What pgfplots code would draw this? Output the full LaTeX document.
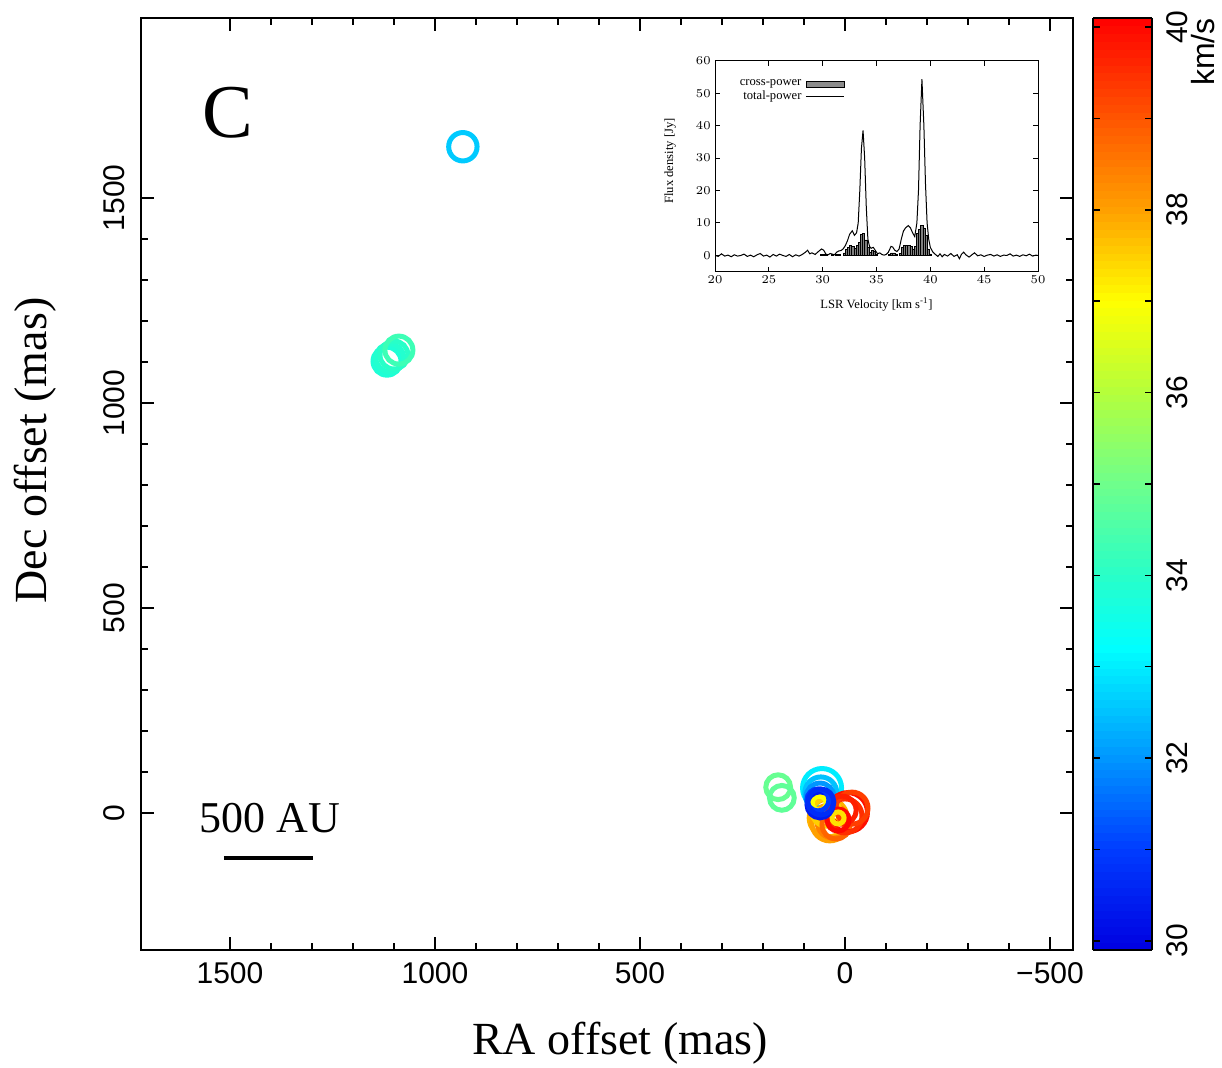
\documentclass[border=0pt]{standalone}
\usepackage{fontspec}
\setmainfont{Liberation Serif}
\newfontfamily\lsans{Liberation Sans}
\newfontfamily\insetfont[FakeStretch=1.3]{Liberation Serif}
\usepackage{pgfplots}
\pgfplotsset{compat=1.18}

\pgfplotstableread{
x y v s
56 61 33.0 9.75
59 49 32.5 8.0
61 39 32.0 7.0
932 1625 32.6 7.1
1117 1102 33.8 7.0
1110 1110 33.9 7.0
1100 1117 34.0 7.0
1088 1129 34.3 7.0
163 63 34.9 6.2
154 37 34.8 6.2
41 -12 37.8 9.5
37 -24 38.0 9.0
29 -22 38.4 8.0
46 2 37.5 7.0
22 -29 38.8 7.0
-7 2 39.9 9.8
0 -7 39.5 8.5
-17 12 39.3 8.0
7 7 39.7 7.0
17 -17 40.0 5.5
63 24 37.0 3.5
17 -12 37.3 3.0
61 20 30.4 6.5
66 32 31.0 5.5
59 27 30.7 6.5
}\spots

\begin{document}
\begin{tikzpicture}
\useasboundingbox (0,0) rectangle (611pt,534pt);
\begin{axis}[
  at={(70.5pt,59pt)}, anchor=south west,
  width=466pt, height=466pt, scale only axis,
  x dir=reverse,
  xmin=-556, xmax=1717, ymin=-334, ymax=1939,
  xtick={-500,0,500,1000,1500},
  xticklabels={−500,0,500,1000,1500},
  ytick={0,500,1000,1500},
  yticklabels={0,500,1000,1500},
  minor x tick num=4, minor y tick num=4,
  tick align=inside, xtick pos=both, ytick pos=both,
  major tick length=6.5pt, minor tick length=3.5pt,
  axis line style={line width=0.75pt},
  every tick/.style={line width=0.75pt, black},
  ticklabel style={font=\lsans\fontsize{15}{18}\selectfont},
  yticklabel style={rotate=90, anchor=south, inner sep=8pt},
  xticklabel style={inner sep=6pt},
  xlabel={RA offset (mas)},
  ylabel={Dec offset (mas)},
  label style={font=\fontsize{23}{26}\selectfont},
  xlabel style={at={(axis description cs:0.514,-0.0998)}, anchor=center},
  ylabel style={at={(axis description cs:-0.1137,0.536)}, anchor=center},
  colormap={myjet}{rgb255(0pt)=(0,0,225); rgb255(1.1pt)=(0,60,255); rgb255(2.1pt)=(0,150,255); rgb255(3.3pt)=(0,255,255); rgb255(4.1pt)=(40,255,200); rgb255(5.1pt)=(110,255,140); rgb255(6.1pt)=(180,255,60); rgb255(7.1pt)=(255,255,0); rgb255(8.1pt)=(255,160,0); rgb255(9.1pt)=(255,85,0); rgb255(10.2pt)=(255,0,0)},
  point meta min=29.9, point meta max=40.1,
  colorbar right,
  colorbar sampled,
  colorbar shift/.style={xshift=10pt},
  colorbar style={
    at={(parent axis.north east)}, anchor=north west,
    width=29.5pt, scale only axis,
    samples=120,
    xmin=0, xmax=1,
    ytick={30,...,40},
    yticklabels={30,,32,,34,,36,,38,,40},
    ytick pos=both, yticklabel pos=right, tick align=inside,
    major tick length=3.5pt,
    axis line style={line width=0.75pt},
    axis on top,
    every tick/.style={line width=0.75pt, black},
    yticklabel style={rotate=90, anchor=north, inner sep=7pt, font=\lsans\fontsize{15}{18}\selectfont},
  },
]
\addplot[scatter, only marks, mark=o, mark options={line width=2.5pt},
  scatter/use mapped color={draw=mapped color, fill=mapped color},
  point meta=\thisrow{v},
  visualization depends on={\thisrow{s} \as \msize},
  scatter/@pre marker code/.append style={/tikz/mark size=\msize}]
  table[x=x, y=y] {\spots};
\node[font=\fontsize{38}{40}\selectfont] at (axis cs:1505,1707) {C};
\node[font=\fontsize{22}{24}\selectfont] at (axis cs:1402,-12) {500 AU};
\draw[line width=1.7pt] (axis cs:1515,-110) -- (axis cs:1298,-110);
\end{axis}
\node[rotate=90, font=\lsans\fontsize{16}{18}\selectfont] at (601.5pt,508pt) {km/s};

\begin{axis}[
  at={(357.5pt,398.15pt)}, anchor=south west,
  width=161.5pt, height=105.5pt, scale only axis,
  xmin=20, xmax=50, ymin=-5, ymax=60,
  xtick={20,25,...,50}, ytick={0,10,...,60},
  tick align=inside, major tick length=2.5pt,
  axis line style={line width=0.5pt},
  every tick/.style={black, line width=0.5pt},
  ticklabel style={font=\insetfont\fontsize{6.3}{7}\selectfont},
  xticklabel style={inner sep=2pt},
  yticklabel style={inner sep=2pt},
  xlabel={LSR Velocity [km s\textsuperscript{-1}]},
  ylabel={Flux density [Jy]},
  label style={font=\fontsize{6.3}{7}\selectfont},
  xlabel style={at={(axis description cs:0.5,-0.157)}, anchor=center},
  ylabel style={at={(axis description cs:-0.139,0.525)}, anchor=center},
  legend style={draw=none, fill=none, at={(0.402,0.93)}, anchor=north east,
    font=\fontsize{6.3}{7}\selectfont, inner sep=0pt, row sep=-3pt},
  legend cell align=right, legend plot pos=right,
]
\addplot[ybar, bar width=0.2, fill=gray, draw=black, line width=0.3pt,
  legend image code/.code={\draw[fill=gray!90, draw=black, line width=0.4pt] (0pt,-1.5pt) rectangle (19pt,1.5pt);}]
  coordinates {
  (29.9,0.3) (30.1,0.4) (30.3,0.2) (30.9,0.3) (31.3,0.4) (31.5,0.3)
  (32.0,0.8) (32.2,1.8) (32.4,2.5) (32.6,3.0) (32.8,2.8) (33.0,2.2)
  (33.2,3.0) (33.4,4.0) (33.6,6.5) (33.8,6.9) (34.0,4.8) (34.2,2.5)
  (34.4,1.0) (34.6,1.5) (34.8,1.2) (35.0,0.3)
  (36.2,0.3) (36.4,0.8) (36.6,0.8) (36.8,0.5) (37.2,0.6) (37.4,2.5)
  (37.6,3.2) (37.8,3.0) (38.0,3.0) (38.2,2.8) (38.4,2.0) (38.6,2.8)
  (38.8,6.8) (39.0,8.0) (39.2,9.3) (39.4,8.5) (39.6,6.2) (39.8,2.0) (40.0,0.5)
  };
\addlegendentry{cross-power}
\addplot[black, line width=0.5pt,
  legend image code/.code={\draw[black, line width=0.5pt] (0pt,0pt) -- (19pt,0pt);}]
  coordinates {
  (20.0,0.0) (20.3,-0.3) (20.6,0.5) (20.9,-0.2) (21.2,0.1) (21.5,-0.4)
  (21.8,0.2) (22.1,-0.2) (22.4,0.0) (22.7,0.4) (23.0,-0.3) (23.3,0.1)
  (23.6,-0.4) (23.9,0.2) (24.2,0.6) (24.5,-0.2) (24.8,0.1) (25.1,-0.5)
  (25.4,0.3) (25.7,-0.2) (26.0,0.4) (26.3,0.0) (26.6,-0.3) (26.9,0.3)
  (27.2,-0.4) (27.5,0.2) (27.8,-0.2) (28.1,0.3) (28.4,1.0) (28.6,1.6)
  (28.8,0.5) (29.0,0.8) (29.3,0.3) (29.6,1.2) (29.9,2.0) (30.1,1.6)
  (30.3,0.4) (30.5,0.2) (30.7,0.6) (30.9,0.4) (31.1,0.2) (31.3,1.0)
  (31.5,1.4) (31.7,1.5) (31.9,2.0) (32.1,3.0) (32.3,4.5) (32.5,6.5)
  (32.75,7.6) (32.95,6.2) (33.15,7.0) (33.3,10) (33.45,20) (33.6,33)
  (33.75,38.5) (33.9,30) (34.05,15) (34.2,5) (34.35,2.8) (34.5,2.2)
  (34.7,2.5) (34.9,1.5) (35.1,0.5) (35.3,0.8) (35.5,0.3) (35.7,0.1)
  (35.9,0.3) (36.1,1.0) (36.35,2.8) (36.5,2.6) (36.7,1.6) (36.9,1.2)
  (37.1,2.0) (37.3,5.0) (37.5,7.5) (37.7,8.5) (37.95,9.2) (38.15,8.5)
  (38.35,7.0) (38.55,5.8) (38.75,10) (38.9,20) (39.05,40) (39.22,54.3)
  (39.4,40) (39.55,22) (39.7,10) (39.85,5) (40.0,2.5) (40.2,1.2)
  (40.4,0.5) (40.7,-0.3) (40.9,0.5) (41.1,-0.4) (41.3,0.3) (41.6,-0.2)
  (41.9,0.6) (42.2,-0.3) (42.5,0.2) (42.7,-1.0) (42.9,0.4) (43.1,1.0)
  (43.3,0.2) (43.6,-0.5) (43.9,0.3) (44.1,0.8) (44.4,-0.1) (44.7,0.2)
  (45.0,-0.3) (45.3,0.1) (45.6,0.3) (45.9,-0.2) (46.2,0.2) (46.5,-0.3)
  (46.8,0.1) (47.1,0.0) (47.4,0.5) (47.7,-0.2) (48.0,0.1) (48.3,-0.3)
  (48.6,0.2) (48.9,-0.1) (49.2,0.4) (49.5,-0.2) (49.8,0.1) (50.0,0.0)
  };
\addlegendentry{total-power}
\end{axis}
\end{tikzpicture}
\end{document}
